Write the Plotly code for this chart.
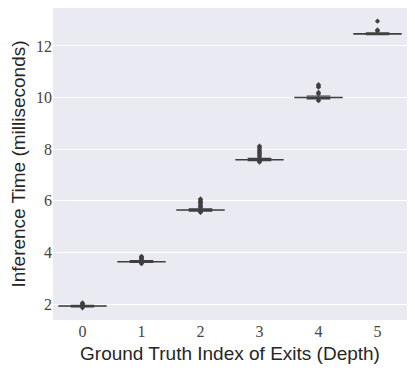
import plotly.graph_objects as go

# Box statistics per ground-truth exit index (milliseconds)
exits = [0, 1, 2, 3, 4, 5]
q1 = [1.915, 3.635, 5.635, 7.585, 9.995, 12.46]
median = [1.92, 3.64, 5.64, 7.59, 10.00, 12.47]
q3 = [1.925, 3.645, 5.645, 7.595, 10.01, 12.48]
lower = [1.89, 3.61, 5.60, 7.55, 9.95, 12.44]
upper = [1.95, 3.68, 5.69, 7.64, 10.06, 12.51]

# Outliers (fliers) per exit
fliers = [
    [1.85, 1.98, 2.01, 2.04],
    [3.56, 3.58, 3.72, 3.75, 3.78, 3.82, 3.85],
    [5.55, 5.57, 5.73, 5.78, 5.83, 5.88, 5.93, 5.98, 6.03, 6.07],
    [7.50, 7.52, 7.70, 7.76, 7.82, 7.88, 7.93, 8.00, 8.06, 8.12],
    [9.88, 9.90, 10.14, 10.20, 10.40, 10.45, 10.50],
    [12.58, 12.62, 12.96],
]

palette = ["#4c72b0", "#dd8452", "#55a868", "#c44e52", "#8172b3", "#937860"]
edge = "#3f3f3f"

fig = go.Figure()

for i, x in enumerate(exits):
    fig.add_trace(go.Box(
        x=[x], q1=[q1[i]], median=[median[i]], q3=[q3[i]],
        lowerfence=[lower[i]], upperfence=[upper[i]],
        width=0.8, whiskerwidth=0.5,
        fillcolor=palette[i], line=dict(color=edge, width=1.2),
        boxpoints=False, showlegend=False, hoverinfo="y",
    ))
    fig.add_trace(go.Scatter(
        x=[x] * len(fliers[i]), y=fliers[i], mode="markers",
        marker=dict(symbol="diamond", size=4, color=edge),
        showlegend=False,
    ))

# the page body adds an 8px margin, so the figure is sized 8px smaller
fig.update_layout(
    width=407, height=366,
    margin=dict(l=45, r=8, t=0, b=54),
    paper_bgcolor="white",
    plot_bgcolor="#eaeaf2",
    font=dict(family="Liberation Sans", color="#262626"),
)

fig.update_xaxes(
    range=[-0.5, 5.5], tickvals=exits, ticktext=[str(e) for e in exits],
    showgrid=False, zeroline=False, showline=False, automargin=False,
    tickfont=dict(family="Liberation Serif", size=16, color="#444444"),
    title=dict(text="Ground Truth Index of Exits (Depth)", font=dict(size=19), standoff=7),
)
fig.update_yaxes(
    range=[1.38, 13.47], tickvals=[2, 4, 6, 8, 10, 12],
    showgrid=True, gridcolor="white", gridwidth=1, zeroline=False, showline=False,
    automargin=False,
    tickfont=dict(family="Liberation Serif", size=16, color="#444444"),
    title=dict(text="Inference Time (milliseconds)", font=dict(size=19), standoff=8),
)

fig.write_html("out.html")
